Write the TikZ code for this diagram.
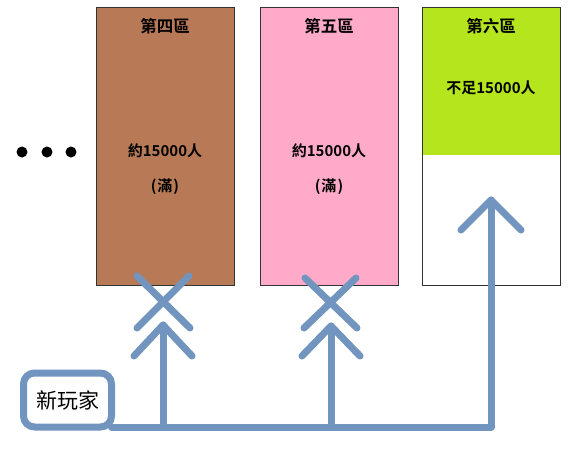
\documentclass[tikz,border=0pt]{standalone}
\usepackage{fontspec}
\newfontfamily\cjkb{Noto Sans CJK TC Bold}
\newfontfamily\cjk{Noto Sans CJK TC}
\definecolor{brownbox}{HTML}{B87A56}
\definecolor{pinkbox}{HTML}{FFAAC9}
\definecolor{greenbox}{HTML}{B5E51D}
\definecolor{flow}{HTML}{7295C0}
\begin{document}
\begin{tikzpicture}[x=1pt,y=-1pt,
  zone/.style={draw=black!80,line width=0.8pt,minimum width=138pt,minimum height=278pt,anchor=north west,inner sep=0pt},
  lbl/.style={font=\cjkb\fontsize{15}{18}\selectfont,text=black,inner sep=0pt},
  ttl/.style={font=\cjkb\fontsize{16.5}{18}\selectfont,text=black,inner sep=0pt},
  flowline/.style={draw=flow,line width=7pt,line cap=round,line join=round},
  dot/.style={circle,fill=black,minimum size=11pt,inner sep=0pt}]
\useasboundingbox (0,0) rectangle (580,448);
% zones
\node[zone,fill=brownbox] (z4) at (96,7) {};
\node[zone,fill=pinkbox] (z5) at (260,7) {};
\node[zone,fill=white] (z6) at (422,7) {};
\fill[greenbox] (422.4,7.4) rectangle (559.6,155);
\draw[black!80,line width=0.8pt] (422,7) rectangle (560,285);
% labels
\node[ttl] (t4) at (165,26) {第四區};
\node[ttl] (t5) at (329,26) {第五區};
\node[ttl] (t6) at (491,26) {第六區};
\node[lbl] (p4) at (165,151) {約15000人};
\node[lbl] (p5) at (329,151) {約15000人};
\node[lbl] (p6) at (491,88) {不足15000人};
\node[lbl] (f4) at (165,187) {(\kern1pt滿\kern1pt)};
\node[lbl] (f5) at (329,187) {(\kern1pt滿\kern1pt)};
% dots
\node[dot] (d1) at (22,152) {};
\node[dot] (d2) at (47,152) {};
\node[dot] (d3) at (71,152) {};
% new player
\node[draw=flow,line width=7pt,rounded corners=11pt,minimum width=88pt,minimum height=54pt,inner sep=0pt,font=\cjk\fontsize{21}{24}\selectfont] (np) at (67.5,400) {新玩家};
\coordinate (b4) at (163,427);
\coordinate (b5) at (331,427);
\coordinate (b6) at (491,427);
\coordinate (a4) at (163,325);
\coordinate (a5) at (331,326);
\coordinate (a6) at (491,200);
% main line
\draw[flowline] (np.south east) ++(-3.5,-3.5) -- (b6) -- (a6);
\draw[flowline] (461,230) -- (a6) -- (521,230);
% blocked arrows
\draw[flowline] (b4) -- (a4);
\draw[flowline] (134,356) -- (a4) -- (192,356);
\draw[flowline] (137,276) -- (190,328);
\draw[flowline] (189,276) -- (137,328);
\draw[flowline] (b5) -- (a5);
\draw[flowline] (302,356) -- (a5) -- (360,356);
\draw[flowline] (305,278) -- (357,328);
\draw[flowline] (356,278) -- (304,328);
\end{tikzpicture}
\end{document}
